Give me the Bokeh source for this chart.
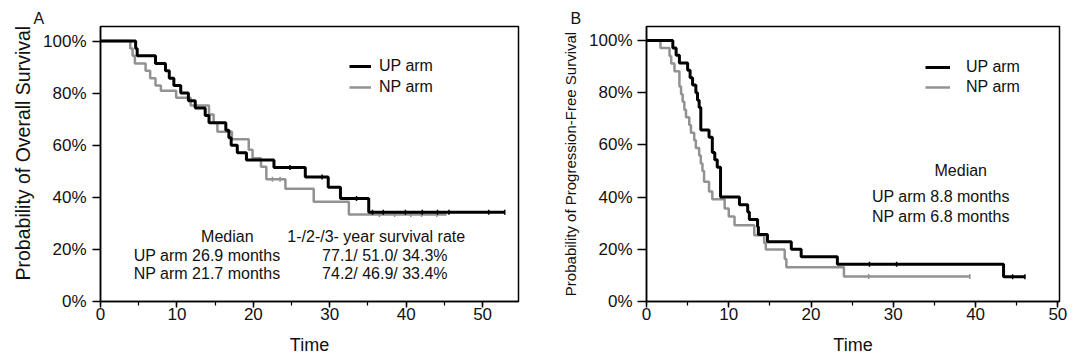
import numpy as np
from bokeh.plotting import figure
from bokeh.layouts import row
from bokeh.models import (Range1d, SingleIntervalTicker, PrintfTickFormatter,
                          Label, Legend, LegendItem, Title)
from bokeh.embed import file_html
from bokeh.resources import INLINE

FONT = "Liberation Sans"

# ---------------- Data ----------------
# Panel A: overall survival, % surviving after each event time (months)
up_a_t = [0, 4.6, 4.8, 7.2, 8.5, 9.0, 9.6, 10.5, 11.5, 12.4, 13.7, 14.2, 16.4,
          16.8, 17.1, 17.9, 19.1, 22.7, 26.8, 29.8, 31.4, 35.1]
up_a_s = [100, 97.1, 94.3, 91.4, 88.6, 85.7, 82.9, 80.0, 77.1, 74.3, 71.4, 68.6,
          65.7, 62.9, 60.0, 57.1, 54.3, 51.4, 47.8, 43.9, 39.5, 34.3]
up_a_end = 52.9
up_a_cens = [24.8, 29.0, 33.5, 35.6, 37.0, 39.9, 42.1, 44.1, 45.6, 50.8, 52.9]

np_a_t = [0, 3.9, 4.2, 4.5, 5.9, 6.5, 7.2, 7.9, 9.9, 11.8, 14.2, 14.8, 15.3,
          17.2, 19.4, 19.9, 21.0, 21.7, 24.2, 27.9, 32.5]
np_a_s = [100, 97.1, 94.3, 91.4, 88.6, 85.7, 82.9, 80.9, 78.2, 75.2, 71.8, 68.5,
          65.2, 62.3, 58.3, 55.0, 51.7, 46.9, 43.3, 38.3, 33.4]
np_a_end = 45.3
np_a_cens = [22.5, 23.5, 36.5, 38.5, 40.6, 42.0, 44.0]

# Panel B: progression-free survival
up_b_t = [0, 3.2, 3.6, 4.0, 5.0, 5.3, 5.6, 6.0, 6.2, 6.4, 6.6, 7.6, 8.0, 8.3,
          8.6, 9.0, 11.3, 12.3, 12.5, 13.5, 13.6, 14.7, 17.6, 18.8, 23.2, 43.4]
up_b_s = [100, 97.1, 94.3, 91.4, 88.6, 85.7, 82.9, 80.0, 77.1, 74.3, 65.7, 62.9,
          57.1, 54.3, 51.4, 40.0, 37.1, 34.3, 31.4, 28.6, 25.7, 22.9, 20.0, 17.1,
          14.3, 9.5]
up_b_end = 46.0
up_b_cens = [27.1, 30.4, 44.5, 46.0]

np_b_t = [0, 1.7, 2.8, 3.0, 3.4, 4.0, 4.2, 4.4, 4.6, 4.8, 5.2, 5.4, 5.8, 6.0,
          6.4, 6.6, 6.8, 7.0, 7.6, 8.0, 9.5, 10.0, 10.7, 13.1, 14.3, 14.5, 16.8,
          17.0, 24.0]
np_b_s = [100, 97.1, 94.1, 91.2, 88.2, 82.4, 79.4, 76.5, 73.5, 70.6, 67.6, 64.7,
          61.8, 58.8, 55.9, 52.9, 50.0, 45.9, 42.1, 39.2, 35.6, 32.6, 29.2, 25.4,
          22.4, 19.9, 16.3, 13.1, 9.6]
np_b_end = 39.3
np_b_cens = [27.0, 39.3]

series_labels = ["UP arm", "NP arm"]


def steps(t, s, end):
    return list(t) + [end], list(s) + [s[-1]]


def level_at(t, s, xs):
    idx = np.searchsorted(np.array(t), np.array(xs), side="right") - 1
    return list(np.array(s)[idx])


def panel(width, borders, xmax, ymax, ylabel, ylabel_size, ylabel_standoff,
          ylabel_align, ylabel_offset, ytick_out, ytick_standoff,
          xtick_standoff, xlabel_standoff, letter):
    p = figure(width=width, height=359, x_range=Range1d(0, xmax),
               y_range=Range1d(0, ymax), output_backend="svg",
               toolbar_location=None, title=None)
    (p.min_border_left, p.min_border_right,
     p.min_border_top, p.min_border_bottom) = borders
    p.background_fill_color = "white"
    p.border_fill_color = "white"
    p.outline_line_color = "black"
    p.outline_line_width = 1.5
    p.xgrid.grid_line_color = None
    p.ygrid.grid_line_color = None

    p.title = Title(text=letter, align="left", offset=-(borders[0] - 33),
                    text_font=FONT, text_font_size="16px",
                    text_font_style="normal", text_color="#111111", standoff=0,
                    text_line_height=1.0)

    xa = p.xaxis[0]
    xa.ticker = SingleIntervalTicker(interval=10, num_minor_ticks=2)
    xa.axis_label = "Time"
    xa.axis_label_text_font = FONT
    xa.axis_label_text_font_size = "18px"
    xa.axis_label_text_font_style = "normal"
    xa.axis_label_text_color = "#111111"
    xa.axis_label_text_line_height = 1.0
    xa.axis_label_standoff = xlabel_standoff
    xa.major_label_text_font = FONT
    xa.major_label_text_font_size = "17px"
    xa.major_label_text_color = "#111111"
    xa.major_label_text_line_height = 1.0
    xa.major_label_standoff = xtick_standoff
    xa.major_tick_out = 6
    xa.major_tick_in = 0
    xa.minor_tick_out = 4
    xa.minor_tick_in = 0
    xa.axis_line_width = 1.5
    xa.major_tick_line_width = 1.5
    xa.minor_tick_line_width = 1.2

    ya = p.yaxis[0]
    ya.ticker = SingleIntervalTicker(interval=20, num_minor_ticks=0)
    ya.formatter = PrintfTickFormatter(format="%d%%")
    ya.major_label_text_font = FONT
    ya.major_label_text_font_size = "17px"
    ya.major_label_text_color = "#111111"
    ya.major_label_standoff = ytick_standoff
    ya.major_tick_out = ytick_out
    ya.major_tick_in = 0
    ya.minor_tick_out = 0
    ya.minor_tick_in = 0
    ya.axis_line_width = 1.5
    ya.major_tick_line_width = 1.5

    # y-axis title (outside the tick labels, can be shifted along the axis)
    p.add_layout(Title(text=ylabel, align=ylabel_align, offset=ylabel_offset,
                       text_font=FONT, text_font_size=ylabel_size,
                       text_font_style="normal", text_color="#111111",
                       text_line_height=1.0, standoff=ylabel_standoff), "left")
    return p


def draw_curves(p, up, npa, legend_loc, glyph_w, standoff, spacing):
    (ut, us, ue, uc) = up
    (nt, ns, ne, nc) = npa
    nx, ny = steps(nt, ns, ne)
    r_np = p.step(nx, ny, mode="after", line_color="#929292", line_width=2.5)
    p.scatter(nc, level_at(nt, ns, nc), marker="dash", angle=np.pi / 2, size=5,
              line_color="#929292", line_width=1.5)
    ux, uy = steps(ut, us, ue)
    r_up = p.step(ux, uy, mode="after", line_color="black", line_width=3)
    p.scatter(uc, level_at(ut, us, uc), marker="dash", angle=np.pi / 2, size=5,
              line_color="black", line_width=1.5)
    legend = Legend(items=[LegendItem(label=series_labels[0], renderers=[r_up]),
                           LegendItem(label=series_labels[1], renderers=[r_np])],
                    location=legend_loc)
    legend.border_line_alpha = 0
    legend.background_fill_alpha = 0
    legend.padding = 0
    legend.margin = 0
    legend.spacing = spacing
    legend.glyph_width = glyph_w
    legend.glyph_height = 20
    legend.label_height = 20
    legend.label_standoff = standoff
    legend.label_text_font = FONT
    legend.label_text_font_size = "16px"
    legend.label_text_color = "#111111"
    p.add_layout(legend)


def text(p, x, y, s, align="left", size="16px"):
    p.add_layout(Label(x=x, y=y, text=s, text_font=FONT, text_font_size=size,
                       text_align=align, text_baseline="middle",
                       text_color="#111111"))


# Both panels share their top/bottom frame edges (Bokeh aligns frames in a row)
# ---------------- Panel A ----------------
pa = panel(537, (100, 19, 26, 58), 54.7, 105.57, "Probability of Overall Survival",
           "19.5px", 13, "left", 21, 8, 6, 0, 12, "A")
draw_curves(pa, (up_a_t, up_a_s, up_a_end, up_a_cens),
            (np_a_t, np_a_s, np_a_end, np_a_cens), (249, 204), 22, 8, 1)
text(pa, 16.6, 24.8, "Median", align="center")
text(pa, 4.35, 17.7, "UP arm  26.9 months")
text(pa, 4.35, 10.7, "NP arm  21.7 months")
text(pa, 24.45, 24.8, "1-/2-/3- year survival rate")
text(pa, 29.0, 17.7, "77.1/ 51.0/ 34.3%")
text(pa, 29.0, 10.7, "74.2/ 46.9/ 33.4%")

# ---------------- Panel B ----------------
pb = panel(540, (109, 18, 26, 58), 50.2, 105.36,
           "Probability of Progression-Free Survival", "15px", 15, "center", 0,
           9, 5, 0, 12, "B")
draw_curves(pb, (up_b_t, up_b_s, up_b_end, up_b_cens),
            (np_b_t, np_b_s, np_b_end, np_b_cens), (279, 204), 25, 16, 0)
text(pb, 38.2, 50.1, "Median", align="center")
text(pb, 27.4, 40.2, "UP arm  8.8 months")
text(pb, 27.4, 32.4, "NP arm  6.8 months")

layout = row(pa, pb)
open("out.html", "w").write(file_html(layout, INLINE))
